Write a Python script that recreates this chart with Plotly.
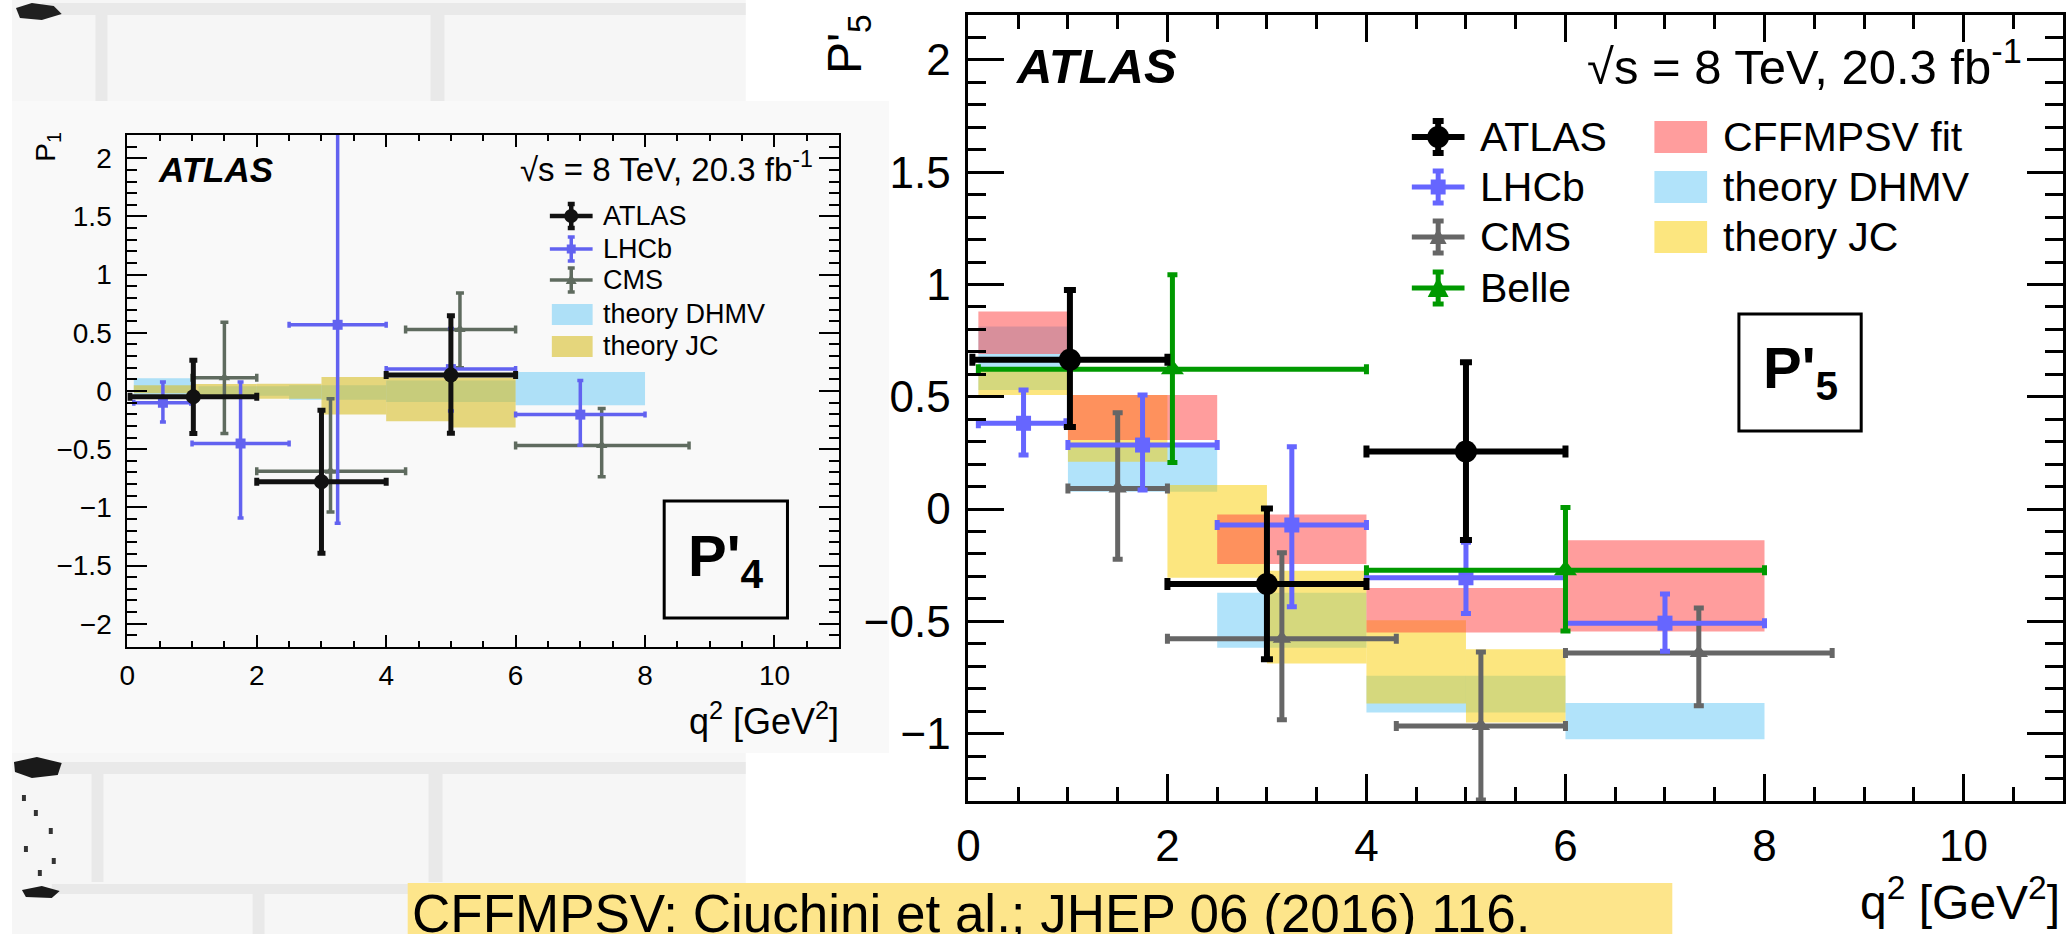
import plotly.graph_objects as go

W, H = 2067, 934
FONT = "Liberation Sans"

# ---------------- P'4 panel (small plot) ----------------
p4_atlas_q2 = [1.02, 3.0, 5.0]
p4_atlas_lo = [0.04, 2.0, 4.0]
p4_atlas_hi = [2.0, 4.0, 6.0]
p4_atlas_val = [-0.05, -0.78, 0.137]
p4_atlas_up = [0.314, 0.614, 0.51]
p4_atlas_dn = [0.315, 0.615, 0.50]

p4_lhcb_q2 = [0.55, 1.75, 3.25, 5.0, 7.0]
p4_lhcb_lo = [0.1, 1.0, 2.5, 4.0, 6.0]
p4_lhcb_hi = [0.98, 2.5, 4.0, 6.0, 8.0]
p4_lhcb_val = [-0.10, -0.451, 0.569, 0.188, -0.203]
p4_lhcb_up = [0.177, 0.528, 1.71, 0.35, 0.294]
p4_lhcb_dn = [0.166, 0.64, 1.706, 0.36, 0.263]

p4_cms_q2 = [1.5, 3.14, 5.14, 7.33]
p4_cms_lo = [1.0, 2.0, 4.3, 6.0]
p4_cms_hi = [2.0, 4.3, 6.0, 8.68]
p4_cms_val = [0.114, -0.689, 0.529, -0.469]
p4_cms_up = [0.477, 0.623, 0.314, 0.318]
p4_cms_dn = [0.48, 0.351, 0.33, 0.268]

p4_dhmv_qlo = [0.1, 1.1, 2.5, 4.0, 6.0]
p4_dhmv_qhi = [0.98, 2.5, 4.0, 6.0, 8.0]
p4_dhmv_min = [-0.03, -0.04, -0.075, -0.094, -0.123]
p4_dhmv_max = [0.11, 0.04, 0.05, 0.09, 0.163]

p4_jc_qlo = [0.1, 1.0, 2.0, 3.0, 4.0, 5.0]
p4_jc_qhi = [1.0, 2.0, 3.0, 4.0, 5.0, 6.0]
p4_jc_min = [-0.02, -0.05, -0.066, -0.203, -0.26, -0.314]
p4_jc_max = [0.05, 0.06, 0.063, 0.12, 0.114, 0.114]

# ---------------- P'5 panel (large plot) ----------------
p5_atlas_q2 = [1.02, 3.0, 5.0]
p5_atlas_lo = [0.04, 2.0, 4.0]
p5_atlas_hi = [2.0, 4.0, 6.0]
p5_atlas_val = [0.665, -0.334, 0.256]
p5_atlas_up = [0.31, 0.337, 0.398]
p5_atlas_dn = [0.30, 0.335, 0.394]

p5_lhcb_q2 = [0.554, 1.75, 3.25, 5.0, 7.0]
p5_lhcb_lo = [0.1, 1.0, 2.5, 4.0, 6.0]
p5_lhcb_hi = [0.98, 2.5, 4.0, 6.0, 8.0]
p5_lhcb_val = [0.382, 0.285, -0.071, -0.306, -0.508]
p5_lhcb_up = [0.148, 0.223, 0.349, 0.158, 0.13]
p5_lhcb_dn = [0.141, 0.20, 0.364, 0.159, 0.125]

p5_cms_q2 = [1.5, 3.15, 5.15, 7.34]
p5_cms_lo = [1.0, 2.0, 4.3, 6.0]
p5_cms_hi = [2.0, 4.3, 6.0, 8.68]
p5_cms_val = [0.092, -0.577, -0.966, -0.641]
p5_cms_up = [0.337, 0.382, 0.33, 0.20]
p5_cms_dn = [0.316, 0.361, 0.33, 0.235]

p5_belle_q2 = [2.05, 6.0]
p5_belle_lo = [0.1, 4.0]
p5_belle_hi = [4.0, 8.0]
p5_belle_val = [0.623, -0.273]
p5_belle_up = [0.42, 0.28]
p5_belle_dn = [0.416, 0.27]

p5_cff_qlo = [0.1, 1.0, 2.5, 4.0, 6.0]
p5_cff_qhi = [1.0, 2.5, 4.0, 6.0, 8.0]
p5_cff_min = [0.691, 0.308, -0.245, -0.55, -0.545]
p5_cff_max = [0.88, 0.508, -0.024, -0.351, -0.139]

p5_dhmv_qlo = [0.1, 1.0, 2.5, 4.0, 6.0]
p5_dhmv_qhi = [1.0, 2.5, 4.0, 6.0, 8.0]
p5_dhmv_min = [0.53, 0.077, -0.618, -0.906, -1.025]
p5_dhmv_max = [0.813, 0.295, -0.373, -0.742, -0.864]

p5_jc_qlo = [0.1, 1.0, 2.0, 3.0, 4.0, 5.0]
p5_jc_qhi = [1.0, 2.0, 3.0, 4.0, 5.0, 6.0]
p5_jc_min = [0.508, 0.211, -0.306, -0.688, -0.866, -0.95]
p5_jc_max = [0.62, 0.508, 0.107, -0.275, -0.495, -0.624]

# colours
RED = "rgba(255,60,60,0.5)"
BLUE = "rgba(100,200,245,0.5)"
YELLOW = "rgba(250,205,0,0.5)"
OLIVE_L = "rgba(215,190,40,0.6)"
C_LHCB = "#6666ff"
C_CMS = "#666666"
C_BELLE = "#009900"
C_LHCB_L = "#6262f0"
C_CMS_L = "#5f6b5f"


def band(qlo, qhi, vmin, vmax, color, xa, ya):
    return go.Bar(
        x=[(a + b) / 2 for a, b in zip(qlo, qhi)],
        y=[b - a for a, b in zip(vmin, vmax)],
        base=vmin,
        width=[b - a for a, b in zip(qlo, qhi)],
        marker=dict(color=color, line=dict(width=0)),
        xaxis=xa, yaxis=ya, hoverinfo="skip", showlegend=False,
    )


def points(q, lo, hi, val, up, dn, color, symbol, size, lw, cap, xa, ya):
    return go.Scatter(
        x=q, y=val, mode="markers",
        marker=dict(symbol=symbol, size=size, color=color, line=dict(width=0)),
        error_x=dict(type="data", symmetric=False,
                     array=[h - x for h, x in zip(hi, q)],
                     arrayminus=[x - l for x, l in zip(q, lo)],
                     color=color, thickness=lw, width=cap),
        error_y=dict(type="data", symmetric=False, array=up, arrayminus=dn,
                     color=color, thickness=lw, width=cap),
        xaxis=xa, yaxis=ya, hoverinfo="skip", showlegend=False,
    )


fig = go.Figure()

# left panel
fig.add_trace(band(p4_dhmv_qlo, p4_dhmv_qhi, p4_dhmv_min, p4_dhmv_max, BLUE, "x", "y"))
fig.add_trace(band(p4_jc_qlo, p4_jc_qhi, p4_jc_min, p4_jc_max, OLIVE_L, "x", "y"))
fig.add_trace(points(p4_cms_q2, p4_cms_lo, p4_cms_hi, p4_cms_val, p4_cms_up, p4_cms_dn,
                     C_CMS_L, "triangle-up", 10, 3.5, 4, "x", "y"))
fig.add_trace(points(p4_lhcb_q2, p4_lhcb_lo, p4_lhcb_hi, p4_lhcb_val, p4_lhcb_up, p4_lhcb_dn,
                     C_LHCB_L, "square", 10, 3.5, 3, "x", "y"))
fig.add_trace(points(p4_atlas_q2, p4_atlas_lo, p4_atlas_hi, p4_atlas_val, p4_atlas_up, p4_atlas_dn,
                     "#111111", "circle", 15, 5, 4, "x", "y"))

# right panel
fig.add_trace(band(p5_dhmv_qlo, p5_dhmv_qhi, p5_dhmv_min, p5_dhmv_max, BLUE, "x2", "y2"))
fig.add_trace(band(p5_jc_qlo, p5_jc_qhi, p5_jc_min, p5_jc_max, YELLOW, "x2", "y2"))
fig.add_trace(band(p5_cff_qlo, p5_cff_qhi, p5_cff_min, p5_cff_max, RED, "x2", "y2"))
fig.add_trace(points(p5_cms_q2, p5_cms_lo, p5_cms_hi, p5_cms_val, p5_cms_up, p5_cms_dn,
                     C_CMS, "triangle-up", 16, 5, 5, "x2", "y2"))
fig.add_trace(points(p5_lhcb_q2, p5_lhcb_lo, p5_lhcb_hi, p5_lhcb_val, p5_lhcb_up, p5_lhcb_dn,
                     C_LHCB, "square", 15, 5, 5, "x2", "y2"))
fig.add_trace(points(p5_belle_q2, p5_belle_lo, p5_belle_hi, p5_belle_val, p5_belle_up, p5_belle_dn,
                     C_BELLE, "triangle-up", 20, 5, 5, "x2", "y2"))
fig.add_trace(points(p5_atlas_q2, p5_atlas_lo, p5_atlas_hi, p5_atlas_val, p5_atlas_up, p5_atlas_dn,
                     "black", "circle", 22, 6, 6, "x2", "y2"))


def axis(domain, rng, tickvals, minor_dtick, ticklen, minorlen, lw, fsize, standoff, anchor):
    return dict(
        domain=domain, range=rng, anchor=anchor,
        tickmode="array", tickvals=tickvals,
        ticks="inside", ticklen=ticklen, tickwidth=lw, tickcolor="black",
        minor=dict(dtick=minor_dtick, ticks="inside", ticklen=minorlen,
                   tickwidth=lw, tickcolor="black", showgrid=False),
        showline=True, linecolor="black", linewidth=lw, mirror="allticks",
        showgrid=False, zeroline=False,
        tickfont=dict(family=FONT, size=fsize, color="black"),
        ticklabelstandoff=standoff,
    )


# pixel -> paper helpers
def fx(x):
    return x / W


def fy(y):
    return 1 - y / H


LX0, LX1, LY0, LY1 = 116, 832, 135, 647
RX0, RX1, RY0, RY1 = 962, 2063, 15, 801

fig.update_layout(
    width=W, height=H, margin=dict(l=0, r=0, t=0, b=0),
    paper_bgcolor="white", plot_bgcolor="rgba(0,0,0,0)",
    barmode="overlay", showlegend=False,
    xaxis=axis([fx(LX0), fx(LX1)], [0, 11], [0, 2, 4, 6, 8, 10], 0.5, 12, 6, 2, 28, 2, "y"),
    yaxis=axis([fy(LY1), fy(LY0)], [-2.2, 2.2], [-2, -1.5, -1, -0.5, 0, 0.5, 1, 1.5, 2],
               0.1, 20, 10, 2, 28, 8, "x"),
    xaxis2=axis([fx(RX0), fx(RX1)], [0, 11], [0, 2, 4, 6, 8, 10], 0.5, 27, 14, 3, 44, 4, "y2"),
    yaxis2=axis([fy(RY1), fy(RY0)], [-1.3, 2.2], [-1, -0.5, 0, 0.5, 1, 1.5, 2],
                0.1, 36, 18, 3, 44, 6, "x2"),
)

shapes = []


def rect(x0, y0, x1, y1, fill, lw=0, lc="black", layer="below"):
    shapes.append(dict(type="rect", xref="paper", yref="paper",
                       x0=fx(x0), x1=fx(x1), y0=fy(y1), y1=fy(y0),
                       fillcolor=fill, line=dict(width=lw, color=lc), layer=layer))


def seg(x0, y0, x1, y1, color, w, layer="above"):
    shapes.append(dict(type="line", xref="paper", yref="paper",
                       x0=fx(x0), x1=fx(x1), y0=fy(y0), y1=fy(y1),
                       line=dict(color=color, width=w), layer=layer))


def blob(pts, color, layer="below"):
    path = "M " + " L ".join(f"{fx(x):.5f},{fy(y):.5f}" for x, y in pts) + " Z"
    shapes.append(dict(type="path", xref="paper", yref="paper", path=path,
                       fillcolor=color, line=dict(width=0), layer=layer))


# textured wall backdrop around the small plot
WALL, MORTAR = "#f6f6f6", "#e9e9e9"
rect(0, 0, 738, 101, WALL)
rect(30, 3, 738, 15, MORTAR)
rect(84, 15, 96, 101, MORTAR)
rect(421, 15, 435, 101, MORTAR)
rect(0, 753, 738, 934, WALL)
rect(40, 762, 738, 774, MORTAR)
rect(80, 774, 92, 882, MORTAR)
rect(419, 774, 433, 882, MORTAR)
rect(40, 884, 738, 894, MORTAR)
rect(242, 894, 254, 934, MORTAR)
blob([(4, 8), (20, 3), (42, 6), (50, 14), (30, 20), (8, 18)], "#202020")
blob([(2, 762), (25, 757), (50, 763), (46, 775), (20, 778), (3, 772)], "#1a1a1a")
blob([(10, 890), (30, 886), (48, 891), (40, 898), (14, 897)], "#1a1a1a")
for (sx, sy) in [(10, 795), (22, 810), (37, 828), (12, 846), (40, 858), (26, 870)]:
    blob([(sx, sy), (sx + 4, sy), (sx + 4, sy + 6), (sx, sy + 6)], "#333333")
# small plot canvas
rect(0, 101, 882, 753, "#f9f9f9")

# bottom citation box
rect(398, 883, 1670, 934, "#fde58b")

# P' boxes
rect(1737, 314, 1860, 431, "white", 3, "black", "above")
rect(656, 501, 780, 618, "rgba(0,0,0,0)", 3, "black", "above")

# legend of the large plot
for yc, col, lw in [(137, "black", 6), (187, C_LHCB, 5), (237, C_CMS, 5), (288, C_BELLE, 5)]:
    seg(1408, yc, 1461, yc, col, lw)
    seg(1434.5, yc - 16, 1434.5, yc + 16, col, lw)
    seg(1429, yc - 16, 1440, yc - 16, col, lw)
    seg(1429, yc + 16, 1440, yc + 16, col, lw)
shapes.append(dict(type="circle", xref="paper", yref="paper",
                   x0=fx(1423.5), x1=fx(1445.5), y0=fy(148), y1=fy(126),
                   fillcolor="black", line=dict(width=0), layer="above"))
blob([(1427, 179.5), (1442, 179.5), (1442, 194.5), (1427, 194.5)], C_LHCB, "above")
blob([(1434.5, 228), (1443, 244), (1426, 244)], C_CMS, "above")
blob([(1434.5, 277), (1445, 297), (1424, 297)], C_BELLE, "above")
for yc, col in [(137, RED), (187, BLUE), (237, YELLOW)]:
    rect(1652, yc - 16, 1705, yc + 16, col, layer="above")

# legend of the small plot
for yc, col, lw in [(216, "#111111", 4.5), (249, C_LHCB_L, 3.5), (280, C_CMS_L, 3.5)]:
    seg(541, yc, 584, yc, col, lw)
    seg(562.5, yc - 12, 562.5, yc + 12, col, lw)
    seg(559, yc - 12, 566, yc - 12, col, lw)
    seg(559, yc + 12, 566, yc + 12, col, lw)
shapes.append(dict(type="circle", xref="paper", yref="paper",
                   x0=fx(555.5), x1=fx(569.5), y0=fy(223), y1=fy(209),
                   fillcolor="#111111", line=dict(width=0), layer="above"))
blob([(558, 244.5), (567, 244.5), (567, 253.5), (558, 253.5)], C_LHCB_L, "above")
blob([(562.5, 274), (568, 284), (557, 284)], C_CMS_L, "above")
rect(543, 304, 584, 325, BLUE, layer="above")
rect(543, 336, 584, 357, OLIVE_L, layer="above")

fig.update_layout(shapes=shapes)

ann = []


def text(x, y, s, size, xanchor="left", angle=0, color="black"):
    ann.append(dict(xref="paper", yref="paper", x=fx(x), y=fy(y), text=s,
                    showarrow=False, xanchor=xanchor, yanchor="middle",
                    textangle=angle, font=dict(family=FONT, size=size, color=color)))


# large plot labels
text(1008, 66, "<b><i>ATLAS</i></b>", 49)
text(2024, 63, "\u221as = 8 TeV, 20.3 fb<sup>-1</sup>", 49, "right")
for yc, s in zip([137, 187, 237, 288], ["ATLAS", "LHCb", "CMS", "Belle"]):
    text(1475, yc, s, 41)
for yc, s in zip([137, 187, 237], ["CFFMPSV fit", "theory DHMV", "theory JC"]):
    text(1719, yc, s, 41)
text(1798.5, 372, "<b>P'<sub>5</sub></b>", 58, "center")
text(841, 44, "P'<sub>5</sub>", 48, "center", -90)
text(2062, 899, "q<sup>2</sup> [GeV<sup>2</sup>]", 48, "right")

# small plot labels
text(145, 169, "<b><i>ATLAS</i></b>", 35)
text(808, 167, "\u221as = 8 TeV, 20.3 fb<sup>-1</sup>", 33, "right")
for yc, s in zip([216, 249, 280, 314, 346], ["ATLAS", "LHCb", "CMS", "theory DHMV", "theory JC"]):
    text(592, yc, s, 27)
text(718, 560, "<b>P'<sub>4</sub></b>", 58, "center")
text(36, 147, "P<sub>1</sub>", 28, "center", -90)
text(834, 719, "q<sup>2</sup> [GeV<sup>2</sup>]", 36, "right")

# citation
text(400, 913, "CFFMPSV: Ciuchini et al.; JHEP 06 (2016) 116.", 53)

fig.update_layout(annotations=ann)
fig.write_html("out.html")
